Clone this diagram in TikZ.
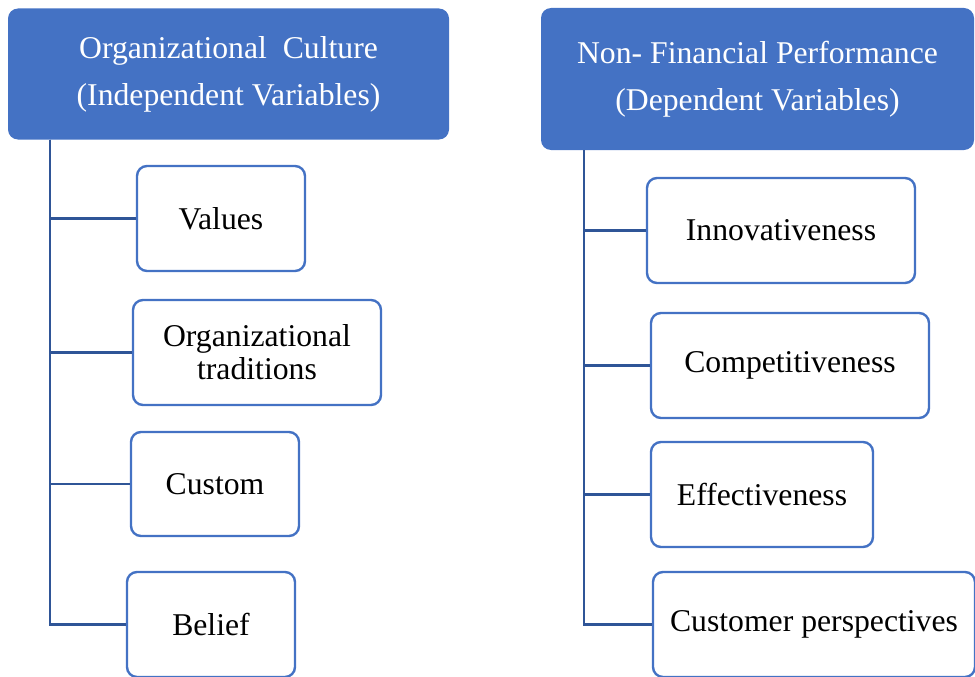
\documentclass[tikz,border=0pt]{standalone}
\usepackage{fontspec}
\setmainfont{Liberation Serif}
\usetikzlibrary{positioning}
\definecolor{hdrblue}{HTML}{4472C4}
\definecolor{linkblue}{HTML}{2F5597}

\begin{document}
\begin{tikzpicture}[x=1pt, y=-1pt,
  head/.style={fill=hdrblue, text=white, rounded corners=10pt, align=center,
    inner sep=0pt, font=\fontsize{31.7}{47}\selectfont},
  item/.style={draw=hdrblue, fill=white, line width=2.4pt, rounded corners=10pt,
    align=center, inner sep=0pt, font=\fontsize{31.7}{33}\selectfont},
  link/.style={draw=linkblue, line width=2.4pt}
]
\useasboundingbox (0,0) rectangle (975,677);

% independent side
\node[head, minimum width=441pt, minimum height=131pt] (culture) at (228.5,74)
  {Organizational~ Culture\\(Independent Variables)};
\node[item, minimum width=168pt, minimum height=105pt] (values) at (221,218.5) {Values};
\node[item, minimum width=248pt, minimum height=105pt] (traditions) at (257,352.5) {Organizational\\traditions};
\node[item, minimum width=168pt, minimum height=104pt] (custom) at (215,484) {Custom};
\node[item, minimum width=168pt, minimum height=105pt] (belief) at (211,624.5) {Belief};

% dependent side
\node[head, minimum width=433pt, minimum height=142pt] (nonfin) at (757.5,79)
  {Non- Financial Performance\\(Dependent Variables)};
\node[item, minimum width=268pt, minimum height=105pt] (innov) at (781,230.5) {Innovativeness};
\node[item, minimum width=278pt, minimum height=105pt] (compet) at (790,365.5) {Competitiveness};
\node[item, minimum width=222pt, minimum height=105pt] (effect) at (762,494.5) {Effectiveness};
\node[item, minimum width=322pt, minimum height=105pt] (custpersp) at (814,624.5) {Customer perspectives};

% trunks
\coordinate (ltrunk) at ([xshift=42pt]culture.south west);
\coordinate (rtrunk) at ([xshift=43pt]nonfin.south west);
\foreach \n in {values,traditions,custom,belief}
  \draw[link] (ltrunk) |- (\n.west);
\foreach \n in {innov,compet,effect,custpersp}
  \draw[link] (rtrunk) |- (\n.west);
\end{tikzpicture}
\end{document}
